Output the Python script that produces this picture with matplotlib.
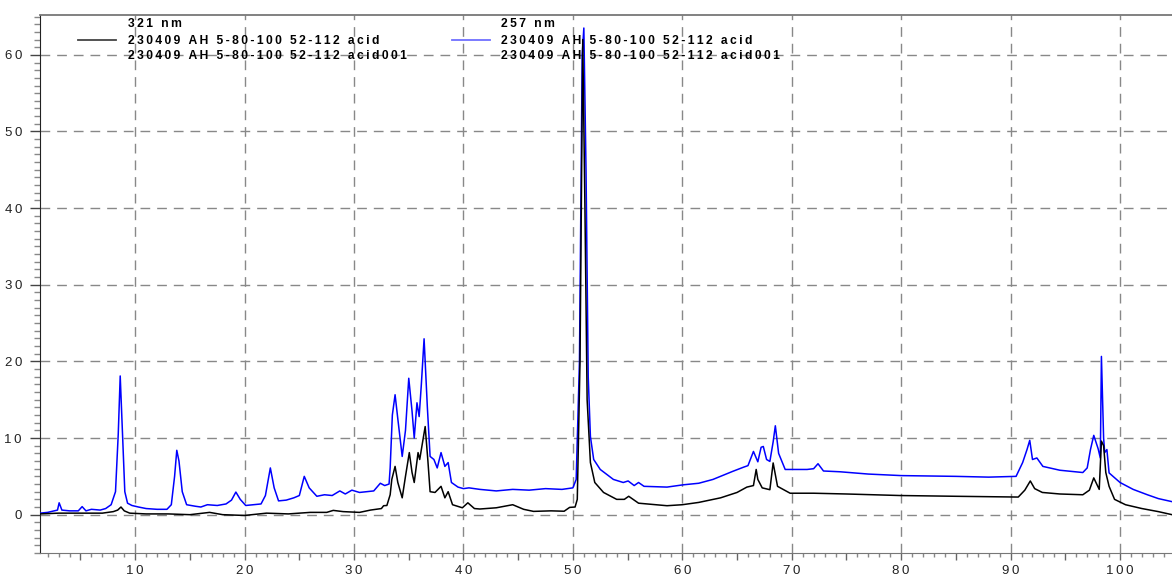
import matplotlib
matplotlib.use("Agg")
import matplotlib.pyplot as plt
from matplotlib.ticker import MultipleLocator, FuncFormatter

# 257 nm trace (blue)
x_257 = [1.3, 2.0, 2.6, 2.9, 3.05, 3.3, 4.0, 4.8, 5.15, 5.5, 6.0, 6.8, 7.3, 7.8, 8.2, 8.45, 8.63,
         8.85, 9.05, 9.3, 9.7, 10.3, 11.0, 12.0, 12.9, 13.3, 13.6, 13.8, 14.0, 14.3, 14.7, 15.5,
         16.0, 16.6, 17.5, 18.3, 18.8, 19.2, 19.6, 20.1, 20.8, 21.5, 21.9, 22.35, 22.7, 23.1, 23.8,
         24.5, 25.0, 25.45, 25.9, 26.6, 27.3, 28.0, 28.7, 29.2, 29.8, 30.5, 31.2, 31.8, 32.4, 32.8,
         33.2, 33.3, 33.5, 33.75, 34.0, 34.4, 34.7, 35.0, 35.3, 35.5, 35.75, 35.95, 36.15, 36.4,
         36.7, 36.95, 37.3, 37.6, 37.95, 38.3, 38.6, 38.9, 39.5, 40.0, 40.5, 41.5, 43.0, 44.5, 46.0,
         47.5, 49.0, 50.0, 50.3, 50.6, 50.85, 51.0, 51.2, 51.4, 51.6, 51.9, 52.5, 53.7, 54.6, 55.05,
         55.6, 56.0, 56.5, 58.6, 60.1, 61.5, 62.8, 64.6, 65.6, 66.0, 66.5, 66.9, 67.2, 67.4, 67.7,
         68.0, 68.3, 68.5, 68.8, 69.4, 71.4, 72.0, 72.4, 72.9, 74.4, 77.0, 80.0, 85.0, 88.0, 90.5,
         91.1, 91.5, 91.75, 92.0, 92.4, 92.95, 94.5, 96.6, 97.0, 97.3, 97.6, 98.0, 98.2, 98.3, 98.5,
         98.6, 98.8, 99.0, 100.0, 101.2, 102.5, 103.5, 104.75]
y_257 = [0.2, 0.3, 0.5, 0.6, 1.55, 0.6, 0.5, 0.5, 1.05, 0.5, 0.7, 0.6, 0.8, 1.3, 3.0, 10.5, 18.1,
         10.0, 3.0, 1.5, 1.2, 1.0, 0.8, 0.7, 0.7, 1.3, 5.0, 8.4, 7.0, 3.0, 1.3, 1.1,
         1.0, 1.3, 1.2, 1.4, 1.9, 2.95, 2.0, 1.2, 1.3, 1.4, 2.5, 6.1, 3.5, 1.8, 1.9,
         2.2, 2.5, 5.0, 3.5, 2.4, 2.6, 2.5, 3.1, 2.7, 3.2, 2.9, 3.0, 3.1, 4.1, 3.8,
         4.0, 6.1, 13.0, 15.65, 12.5, 7.6, 11.0, 17.8, 13.5, 10.0, 14.6, 12.8, 17.0, 22.95,
         14.0, 7.6, 7.2, 6.1, 8.1, 6.3, 6.8, 4.2, 3.6, 3.4, 3.5, 3.3, 3.1, 3.3, 3.2,
         3.4, 3.3, 3.5, 4.6, 20.0, 60.0, 63.5, 45.0, 18.0, 10.2, 7.2, 5.9, 4.6, 4.2, 4.4,
         3.8, 4.2, 3.7, 3.6, 3.9, 4.1, 4.6, 5.65, 6.2, 6.4, 8.25, 6.9, 8.8, 8.9, 7.2,
         6.95, 9.5, 11.6, 8.0, 5.9, 5.9, 6.0, 6.65, 5.7, 5.6, 5.3, 5.1, 5.0, 4.9, 5.0,
         6.8, 8.5, 9.7, 7.2, 7.4, 6.3, 5.8, 5.5, 6.1, 8.5, 10.35, 8.6, 7.4, 20.65, 10.0,
         8.1, 8.5, 5.45, 4.2, 3.3, 2.6, 2.1, 1.7]

# 321 nm trace (black)
x_321 = [1.3, 3.0, 5.0, 7.0, 8.0, 8.4, 8.7, 9.0, 9.5, 11.0, 13.0, 15.0, 16.8, 18.0, 20.0, 22.0,
         24.0, 26.0, 27.5, 28.1, 29.0, 30.5, 31.5, 32.5, 32.7, 33.0, 33.3, 33.45, 33.75, 34.0,
         34.4, 34.7, 35.05, 35.3, 35.5, 35.85, 36.0, 36.5, 36.75, 36.95, 37.4, 37.95, 38.3, 38.6,
         39.0, 39.9, 40.4, 41.0, 41.5, 43.0, 44.5, 45.5, 46.4, 48.0, 49.2, 49.7, 50.2, 50.4, 50.65,
         50.9, 51.1, 51.3, 51.6, 52.0, 52.8, 54.0, 54.7, 55.1, 55.6, 56.0, 58.6, 60.0, 61.5, 63.5,
         65.0, 65.9, 66.5, 66.75, 66.9, 67.3, 68.0, 68.3, 68.7, 69.85, 72.0, 75.0, 79.9, 85.0,
         90.7, 91.3, 91.8, 92.2, 92.9, 94.5, 96.6, 97.2, 97.6, 98.1, 98.3, 98.5, 98.7, 99.0, 99.5,
         100.5, 102.0, 103.5, 104.75]
y_321 = [0.1, 0.2, 0.2, 0.2, 0.4, 0.6, 1.0, 0.5, 0.2, 0.1, 0.1, 0.0, 0.3, 0.0, -0.1, 0.2,
         0.1, 0.3, 0.3, 0.56, 0.4, 0.3, 0.6, 0.8, 1.17, 1.2, 2.6, 4.6, 6.3, 4.2,
         2.2, 5.0, 8.1, 5.5, 4.2, 8.1, 7.2, 11.5, 7.0, 3.0, 2.9, 3.7, 2.2, 3.0,
         1.3, 0.9, 1.55, 0.8, 0.74, 0.9, 1.3, 0.7, 0.43, 0.5, 0.45, 0.95, 1.0, 2.0, 20.0,
         62.0, 40.0, 15.0, 6.8, 4.2, 2.9, 2.0, 2.0, 2.4, 1.9, 1.5, 1.17, 1.3, 1.6, 2.2,
         2.9, 3.6, 3.8, 5.9, 4.6, 3.5, 3.26, 6.75, 3.7, 2.8, 2.8, 2.7, 2.5, 2.4,
         2.3, 3.2, 4.4, 3.4, 2.9, 2.7, 2.6, 3.2, 4.8, 3.3, 9.6, 9.0, 5.5, 3.7, 2.0,
         1.3, 0.8, 0.4, 0.0]

run_name = "230409 AH 5-80-100 52-112 acid"
legend_titles = ["321 nm", "257 nm"]
legend_colors = ["#444444", "#6f6fff"]

W, H = 1172, 578
FONT = ["Liberation Sans", "DejaVu Sans"]


def spaced(s):
    # wide letter spacing like the instrument software
    return "\u2009".join(s)


fig = plt.figure(figsize=(W / 100, H / 100), dpi=100)
ax = fig.add_axes([40 / W, 1 - 553 / H, 1 - 40 / W, (553 - 15) / H])

ax.plot(x_257, y_257, color="#0000ff", lw=1.1, zorder=3)
ax.plot(x_321, y_321, color="black", lw=1.1, zorder=4)

ax.set_xlim(1.3, 104.75)
ax.set_ylim(-5, 65.2)

# grid at every 10
for gx in range(10, 110, 10):
    ax.axvline(gx, color="#888888", lw=1, ls=(0, (7, 5)), zorder=1)
for gy in range(0, 70, 10):
    ax.axhline(gy, color="#888888", lw=1, ls=(0, (7, 5)), zorder=1)

ax.xaxis.set_major_locator(MultipleLocator(5))
ax.xaxis.set_minor_locator(MultipleLocator(1))
ax.yaxis.set_major_locator(MultipleLocator(10))
ax.yaxis.set_minor_locator(MultipleLocator(1))
ax.xaxis.set_major_formatter(FuncFormatter(
    lambda v, p: spaced(str(int(round(v)))) if round(v) % 10 == 0 else ""))
ax.yaxis.set_major_formatter(FuncFormatter(lambda v, p: spaced(str(int(round(v))))))
ax.tick_params(axis="x", which="major", length=5, width=1, color="#666666", pad=4)
ax.tick_params(axis="x", which="minor", length=3, width=1, color="#888888")
ax.tick_params(axis="y", which="major", length=7, width=1, color="#444444", pad=6)
ax.tick_params(axis="y", which="minor", length=4, width=1, color="#888888")
for lab in ax.get_xticklabels() + ax.get_yticklabels():
    lab.set_family(FONT)
    lab.set_fontsize(9.5)
    lab.set_color("#222222")

ax.spines["right"].set_visible(False)
ax.spines["left"].set_color("#222222")
ax.spines["top"].set_color("#777777")
ax.spines["bottom"].set_color("#777777")
ax.spines["top"].set_linewidth(1.3)

# legend drawn as text, under the traces
tr = fig.transFigure
for i, (title, col) in enumerate(zip(legend_titles, legend_colors)):
    x_line = [78, 452][i]
    x_txt = [128, 501][i]
    ax.plot([x_line / W, (x_line + 38) / W], [1 - 40 / H, 1 - 40 / H], color=col,
            lw=1.3, transform=tr, clip_on=False, zorder=2)
    ax.text(x_txt / W, 1 - 24 / H, spaced(title), transform=tr, family=FONT,
            fontsize=8.7, fontweight="bold", va="center", ha="left", zorder=2)
    ax.text(x_txt / W, 1 - 41 / H, spaced(run_name), transform=tr, family=FONT,
            fontsize=8.7, fontweight="bold", va="center", ha="left", zorder=2)
    ax.text(x_txt / W, 1 - 56 / H, spaced(run_name + "001"), transform=tr, family=FONT,
            fontsize=8.7, fontweight="bold", va="center", ha="left", zorder=2)

fig.savefig("out.png", dpi=100)
